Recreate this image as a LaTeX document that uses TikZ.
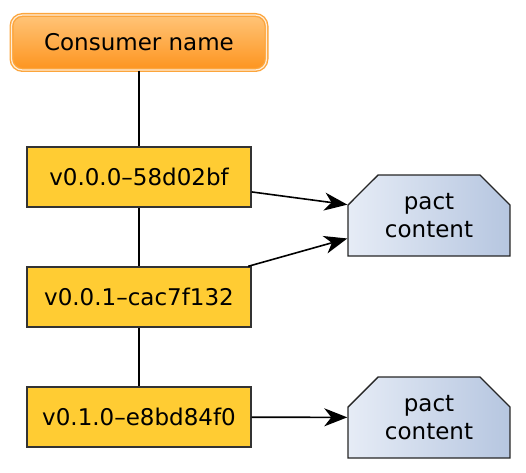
\documentclass[tikz,border=0pt]{standalone}
\usepackage{fontspec}
\setmainfont{DejaVu Sans}
\usetikzlibrary{shapes.misc,arrows.meta}

\definecolor{versfill}{RGB}{255,204,51}
\definecolor{consTop}{RGB}{255,196,120}
\definecolor{consBot}{RGB}{253,148,30}
\definecolor{consEdge}{RGB}{252,165,60}
\definecolor{pactLeft}{RGB}{230,236,246}
\definecolor{pactRight}{RGB}{182,198,224}

\begin{document}
\begin{tikzpicture}[x=1pt,y=1pt,
    font=\fontsize{23}{28}\selectfont,
    consumer/.style={rectangle,rounded corners=11pt,minimum width=255pt,
      minimum height=55pt,top color=consTop,bottom color=consBot,
      draw=consEdge,double=white!80!consEdge,double distance=1.2pt,line width=1.4pt},
    version/.style={rectangle,draw=black!80,fill=versfill,line width=1.4pt,
      minimum width=224pt,minimum height=60pt},
    pact/.style={chamfered rectangle,chamfered rectangle corners={north west,north east},
      chamfered rectangle xsep=15pt,chamfered rectangle ysep=15pt,
      draw=black!85,line width=1.4pt,left color=pactLeft,right color=pactRight,
      minimum width=162pt,minimum height=81pt,align=center,inner sep=0pt},
    link/.style={line width=1.6pt,black},
    arr/.style={line width=1.6pt,-{Stealth[length=23pt,width=18pt,inset=7pt]}}]
    \useasboundingbox (0,0) rectangle (526,472);
    \coordinate (C0) at (139,429.5);
    \coordinate (V0) at (139,295);
    \coordinate (V1) at (139,175);
    \coordinate (V2) at (139,55);
    \coordinate (P0) at (429,256.5);
    \coordinate (P1) at (429,54.5);
      \node [consumer] (cons) at (C0) {Consumer name};
      \node [version] (v000) at (V0) {v0.0.0–58d02bf};
      \node [version] (v001) at (V1) {v0.0.1–cac7f132};
      \node [version] (v010) at (V2) {v0.1.0–e8bd84f0};
      \node [pact] (pact0) at (P0) {pact\\content};
      \node [pact] (pact1) at (P1) {pact\\content};
      \draw [link] (cons)
        -- (v000);
      \draw [link] (v000)
        -- (v001);
      \draw [link] (v001)
        -- (v010);
      \draw [arr] (v000)
        -- (pact0);
      \draw [arr] (v001)
        -- (pact0);
      \draw [arr] (v010)
        -- (pact1);
  \end{tikzpicture}
\end{document}
